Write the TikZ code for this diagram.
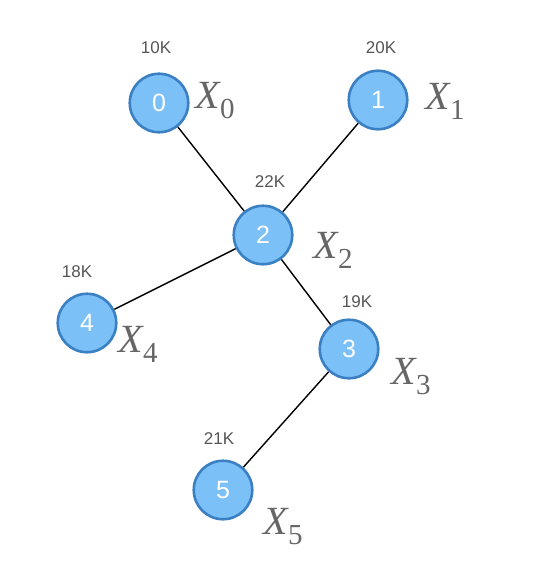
\documentclass[tikz,border=0pt]{standalone}
\usepackage{fontspec}
\setmainfont{Liberation Serif}
\setsansfont{Liberation Sans}
\usetikzlibrary{positioning}
\definecolor{nodefill}{HTML}{7CC0F8}
\definecolor{nodeline}{HTML}{3B80C3}
\definecolor{weightgray}{HTML}{555555}
\definecolor{vargray}{HTML}{666666}
\newcommand{\varlabel}[1]{{\itshape X}\kern0.5pt\raisebox{-10pt}{\fontsize{29}{29}\selectfont #1}}
\tikzset{
  vertex/.style={circle,draw=nodeline,line width=2.6pt,fill=nodefill,minimum size=58.5pt,
    inner sep=0pt,text=white,font=\sffamily\fontsize{25}{25}\selectfont},
  weight/.style={text=weightgray,font=\sffamily\fontsize{17}{17}\selectfont},
  varname/.style={text=vargray,font=\fontsize{40}{40}\selectfont,inner sep=0pt},
  edge/.style={draw=black,line width=1.4pt}
}

\begin{document}
\begin{tikzpicture}[x=1pt,y=-1pt]
  \useasboundingbox (0,0) rectangle (540,578);
  % tree
  \node[vertex] (n0) at (159,103) {0};
  \node[vertex] (n1) at (378,100) {1};
  \node[vertex] (n2) at (263,235) {2};
  \node[vertex] (n3) at (349,349) {3};
  \node[vertex] (n4) at (87,323) {4};
  \node[vertex] (n5) at (223,490) {5};

  \foreach \a/\b in {n0/n2,n1/n2,n2/n4,n2/n3,n3/n5} \draw[edge] (\a) -- (\b);

  % weights
  \node[weight] (w0) at (156,48) {10K};
  \node[weight] (w1) at (381,48) {20K};
  \node[weight] (w2) at (270,182) {22K};
  \node[weight] (w3) at (357,302) {19K};
  \node[weight] (w4) at (77,272) {18K};
  \node[weight] (w5) at (219,439) {21K};

  % variables
  \node[varname] (x0) at (215,101) {\varlabel{0}};
  \node[varname] (x1) at (445,101) {\varlabel{1}};
  \node[varname] (x2) at (333,250) {\varlabel{2}};
  \node[varname] (x3) at (411,377) {\varlabel{3}};
  \node[varname] (x4) at (138,344) {\varlabel{4}};
  \node[varname] (x5) at (283,527) {\varlabel{5}};
\end{tikzpicture}
\end{document}
